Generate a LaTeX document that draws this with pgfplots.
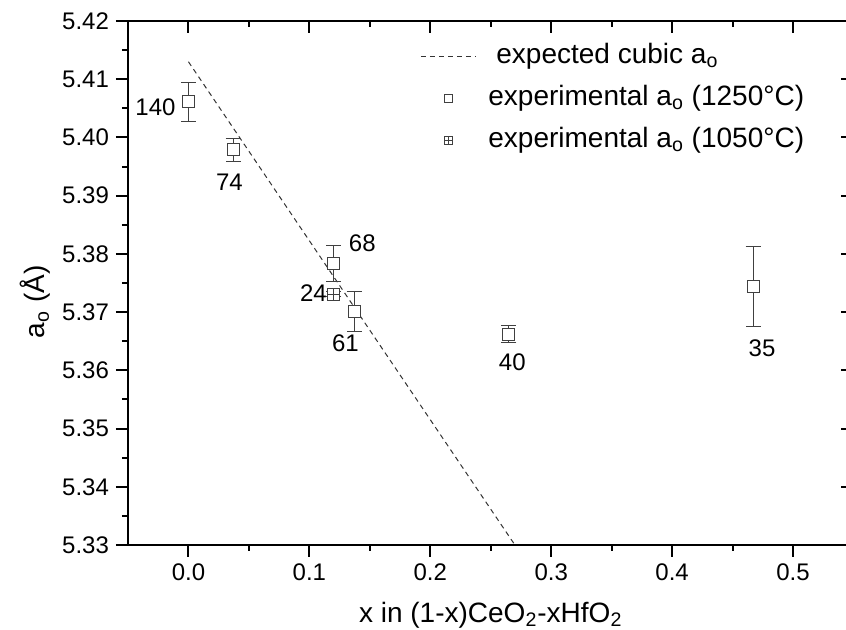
\documentclass[border=0pt]{standalone}
\usepackage{fontspec}
\setmainfont{Liberation Sans}
\usepackage{pgfplots}
\pgfplotsset{compat=1.18}

% square with a cross inside, for the 1050 C sample
\pgfdeclareplotmark{boxplus}{%
  \pgfpathrectangle{\pgfqpoint{-\pgfplotmarksize}{-\pgfplotmarksize}}{\pgfqpoint{2\pgfplotmarksize}{2\pgfplotmarksize}}%
  \pgfusepathqfillstroke
  \pgfpathmoveto{\pgfqpoint{-\pgfplotmarksize}{0pt}}\pgfpathlineto{\pgfqpoint{\pgfplotmarksize}{0pt}}%
  \pgfpathmoveto{\pgfqpoint{0pt}{-\pgfplotmarksize}}\pgfpathlineto{\pgfqpoint{0pt}{\pgfplotmarksize}}%
  \pgfusepathqstroke}

\pgfplotstableread{
x      y       e
0.000  5.4061  0.0033
0.037  5.3979  0.0020
0.120  5.3784  0.0031
0.137  5.3701  0.0035
0.265  5.3662  0.0015
0.467  5.3744  0.0068
}\hightemp

\pgfplotsset{
  frame/.style={
    scale only axis, width=362.75pt, height=262pt,
    xmin=-0.05, xmax=0.55, ymin=5.33, ymax=5.42,
    xtick={0,0.1,0.2,0.3,0.4,0.5},
    ytick={5.33,5.34,5.35,5.36,5.37,5.38,5.39,5.40,5.41,5.42},
    minor x tick num=1, minor y tick num=1,
    major tick length=6pt, minor tick length=3pt,
    tick style={black, line width=1pt},
    axis line style={line width=1.1pt},
  },
  lineimg/.style={legend image code/.code={\draw[##1] (0pt,0pt) -- (27.5pt,0pt);}},
  markimg/.style={legend image code/.code={\draw[mark repeat=2,mark phase=2,##1,mark size=2pt]
    plot coordinates {(0pt,0pt) (13.75pt,0pt) (27.5pt,0pt)};}},
  sample/.style={only marks, mark size=3pt,
    mark options={draw=black!75, fill=white, line width=0.5pt},
    draw=black!75, line width=0.5pt, markimg,
    error bars/.cd, y dir=both, y explicit, error mark=|,
    error bar style={black!75, line width=0.5pt},
    error mark options={black!75, line width=0.5pt, mark size=3.75pt}},
}

\begin{document}
\begin{tikzpicture}
\begin{axis}[frame, name=ax,
  tick align=outside, xtick pos=left, ytick pos=left,
  ticklabel style={font=\fontsize{12}{14}\selectfont},
  /pgf/number format/assume math mode=true,
  xticklabel={\pgfmathprintnumber[fixed,zerofill,precision=1]{\tick}},
  yticklabel={\pgfmathprintnumber[fixed,zerofill,precision=2]{\tick}},
  xlabel={x in (1-x)CeO\textsubscript{2}-xHfO\textsubscript{2}},
  ylabel={a\textsubscript{o} (Å)},
  label style={font=\fontsize{14}{16}\selectfont},
  xlabel style={at={(axis description cs:0.5,-0.147)}, anchor=base},
  ylabel style={at={(axis description cs:-0.128,0.464)}, anchor=center},
  legend cell align=left,
  legend style={at={(0.4025,0.958)}, anchor=north west, draw=none, fill=none,
    inner sep=0pt, row sep=7.5pt, column sep=6pt,
    font=\fontsize{14}{16}\selectfont,
    nodes={inner sep=0pt, text height=10pt, text depth=3.5pt}},
]
\addplot[black!80, line width=0.5pt, dash pattern=on 2.5pt off 2pt, lineimg]
  coordinates {(0,5.413) (0.27,5.33)};
\addlegendentry{\hspace{4pt}expected cubic a\textsubscript{o}}

\addplot[mark=square*, sample] table[x=x, y=y, y error=e] {\hightemp};
\addlegendentry{experimental a\textsubscript{o} (1250°C)}

\addplot[mark=boxplus, sample] coordinates {(0.12,5.3731) +- (0,0.0005)};
\addlegendentry{experimental a\textsubscript{o} (1050°C)}

\begin{scope}[every node/.style={font=\fontsize{12}{14}\selectfont}]
\node at (axis cs:-0.0273,5.4052) {140};
\node at (axis cs:0.0339,5.3923) {74};
\node at (axis cs:0.1438,5.3819) {68};
\node at (axis cs:0.1033,5.3733) {24};
\node at (axis cs:0.1298,5.3647) {61};
\node at (axis cs:0.2678,5.3614) {40};
\node at (axis cs:0.4744,5.3638) {35};
\end{scope}
\end{axis}

\begin{axis}[frame, at={(ax.south west)}, anchor=south west,
  tick align=inside, xtick pos=right, ytick pos=right,
  xticklabels={}, yticklabels={}]
\end{axis}

\pgfresetboundingbox
\useasboundingbox ([shift={(-64pt,-42.5pt)}]ax.south west)
  rectangle ([shift={(359pt,272.5pt)}]ax.south west);
\end{tikzpicture}
\end{document}
